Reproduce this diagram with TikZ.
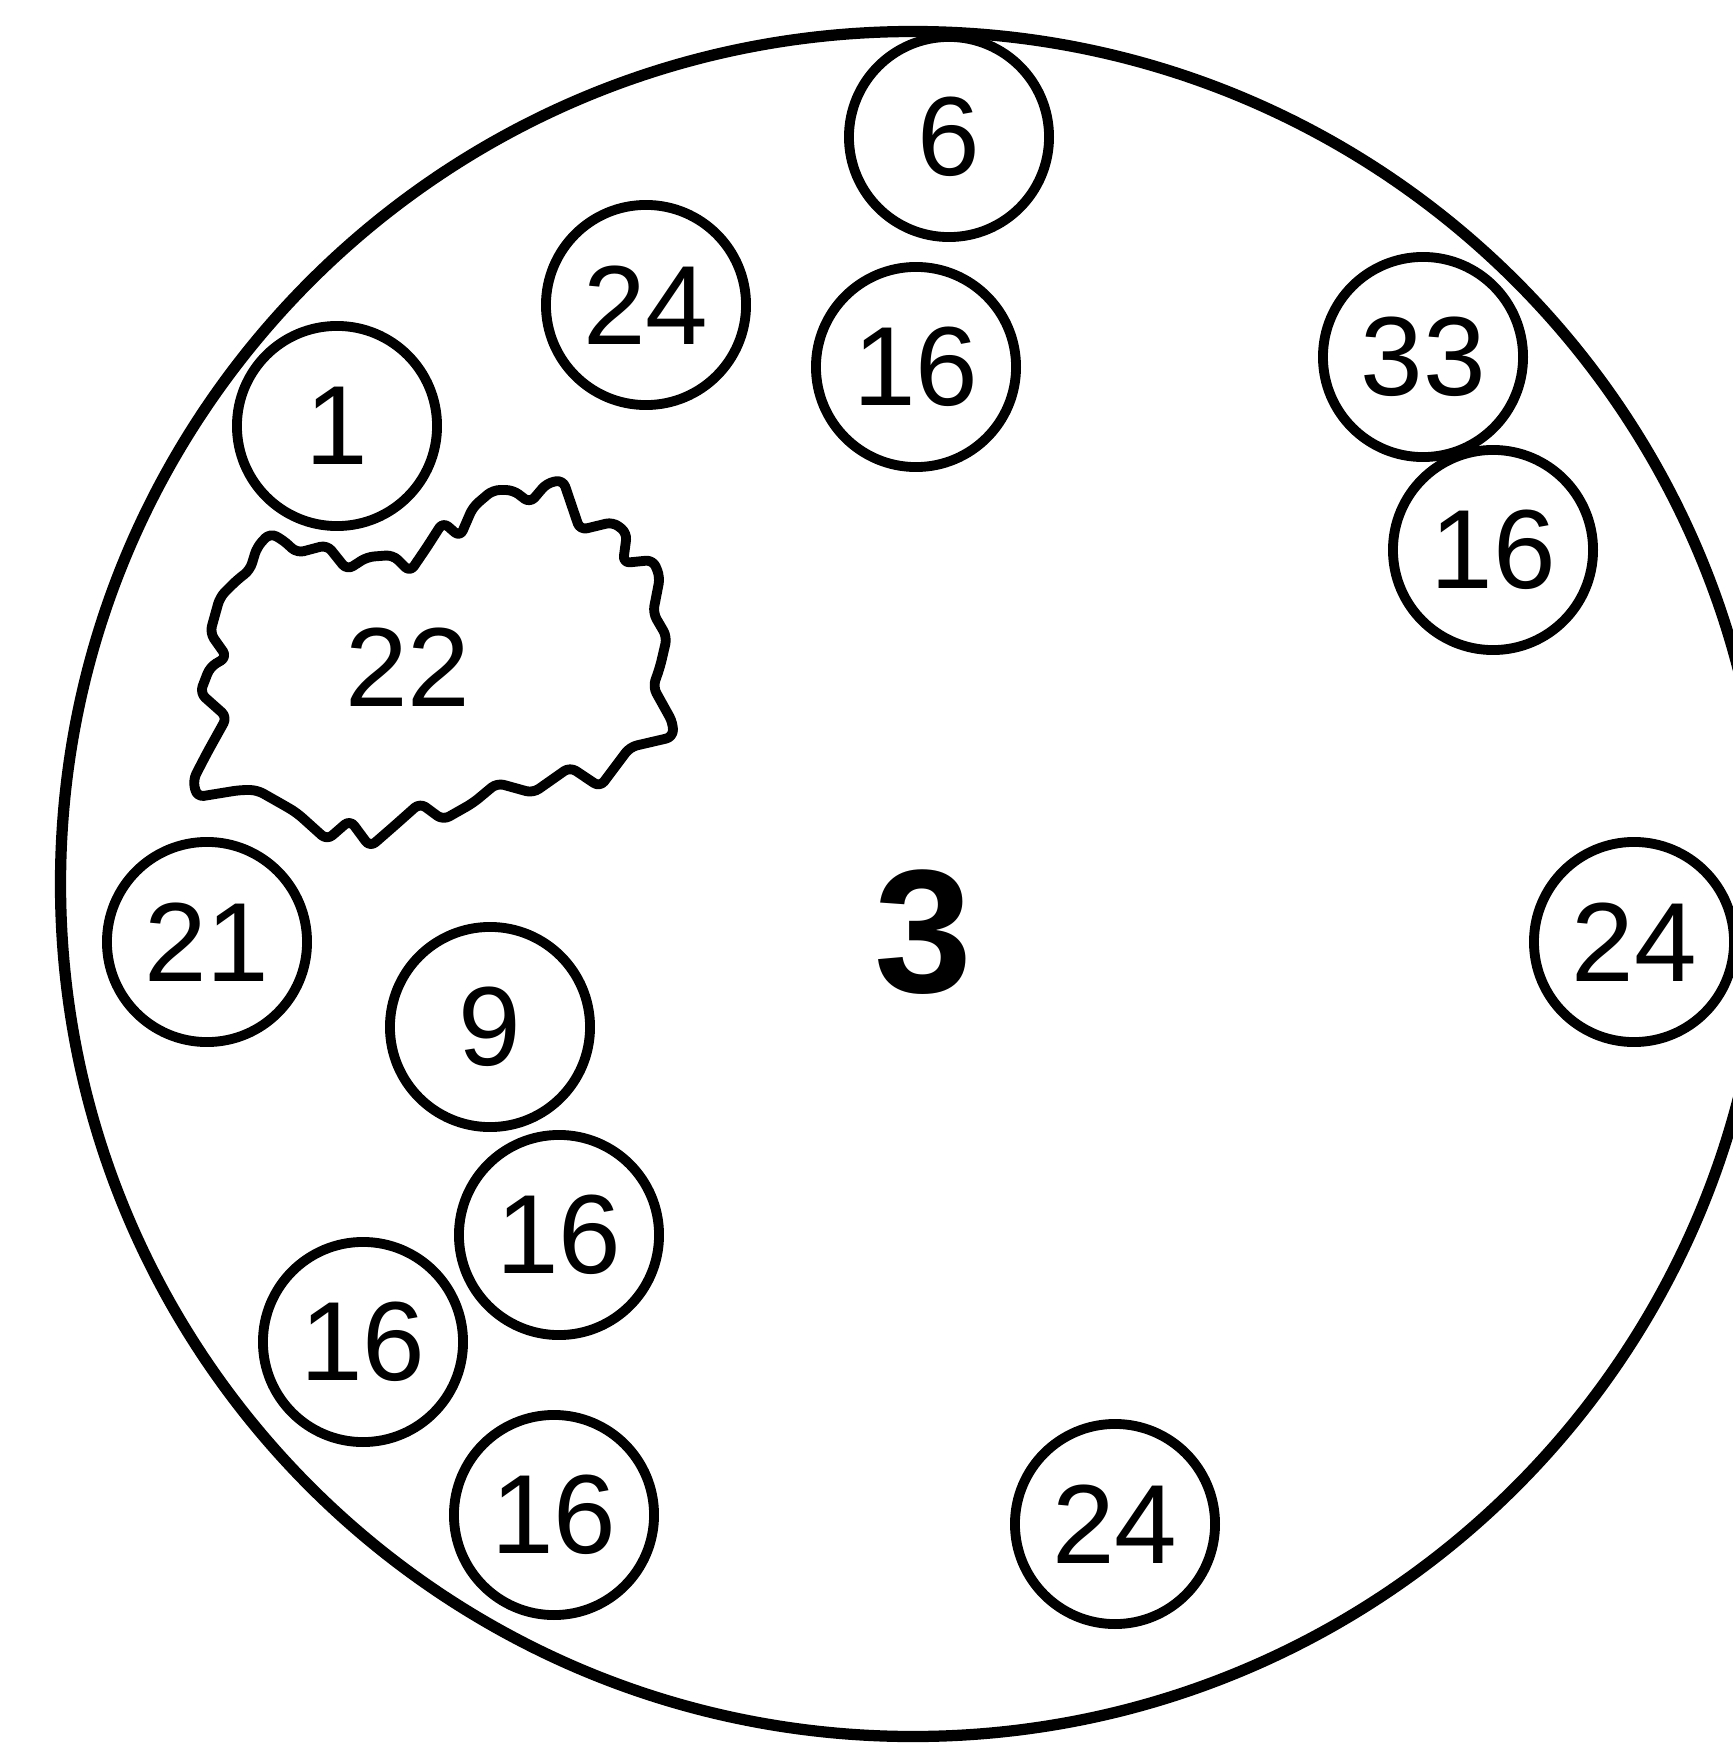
\documentclass[tikz,border=0pt]{standalone}
\usepackage{fontspec}
\setmainfont{Liberation Sans}
\usepackage{tikz}

\begin{document}
\begin{tikzpicture}[x=0.01cm, y=-0.01cm,
  spot/.style={
    draw, circle, line width=2.8pt, minimum size=2cm, inner sep=0pt,
    font=\fontsize{32}{32}\selectfont
  },
  rim/.style={line width=3.2pt},
  blob/.style={line width=2.8pt, line join=round, rounded corners=2pt},
  bignum/.style={font=\fontsize{50}{50}\selectfont\bfseries}
]
\useasboundingbox (0,0) rectangle (1732,1761);

% Outer ring
\draw[rim] (913,884) circle [radius=8.52cm];

% Ragged patch
\draw[blob] (257,547) -- (270,533) -- (283,540) -- (297,553) -- (327,545)
  -- (347,570) -- (367,557) -- (393,555) -- (410,572) -- (427,547)
  -- (443,522) -- (460,537) -- (473,507) -- (493,490) -- (513,490)
  -- (530,503) -- (547,483) -- (563,480) -- (580,530) -- (613,522)
  -- (627,533) -- (623,563) -- (653,560) -- (660,577) -- (653,613)
  -- (667,637) -- (660,667) -- (653,687) -- (673,723) -- (673,737)
  -- (630,747) -- (600,787) -- (570,767) -- (533,793) -- (497,783)
  -- (473,803) -- (443,820) -- (420,803) -- (393,827) -- (370,847)
  -- (350,820) -- (327,840) -- (297,813) -- (287,807) -- (257,790)
  -- (240,790) -- (197,797) -- (193,780) -- (207,753) -- (227,717)
  -- (200,693) -- (210,667) -- (227,657) -- (210,633) -- (220,597)
  -- (237,580) -- (250,570) -- cycle;
\node[font=\fontsize{32}{32}\selectfont] (n22) at (408,667) {22};

% Centre number
\node[bignum] (n3) at (923,932) {3};

% Numbered circles
\node[spot] (c6)   at (949,137)   {6};
\node[spot] (c24a) at (646,305)   {24};
\node[spot] (c16a) at (916,367)   {16};
\node[spot] (c1)   at (337,426)   {1};
\node[spot] (c33)  at (1423,357)  {33};
\node[spot] (c16b) at (1493,550)  {16};
\node[spot] (c24b) at (1634,942)  {24};
\node[spot] (c21)  at (207,942)   {21};
\node[spot] (c9)   at (490,1027)  {9};
\node[spot] (c16c) at (559,1235)  {16};
\node[spot] (c16d) at (363,1342)  {16};
\node[spot] (c16e) at (554,1515)  {16};
\node[spot] (c24c) at (1115,1524) {24};

\end{tikzpicture}
\end{document}
